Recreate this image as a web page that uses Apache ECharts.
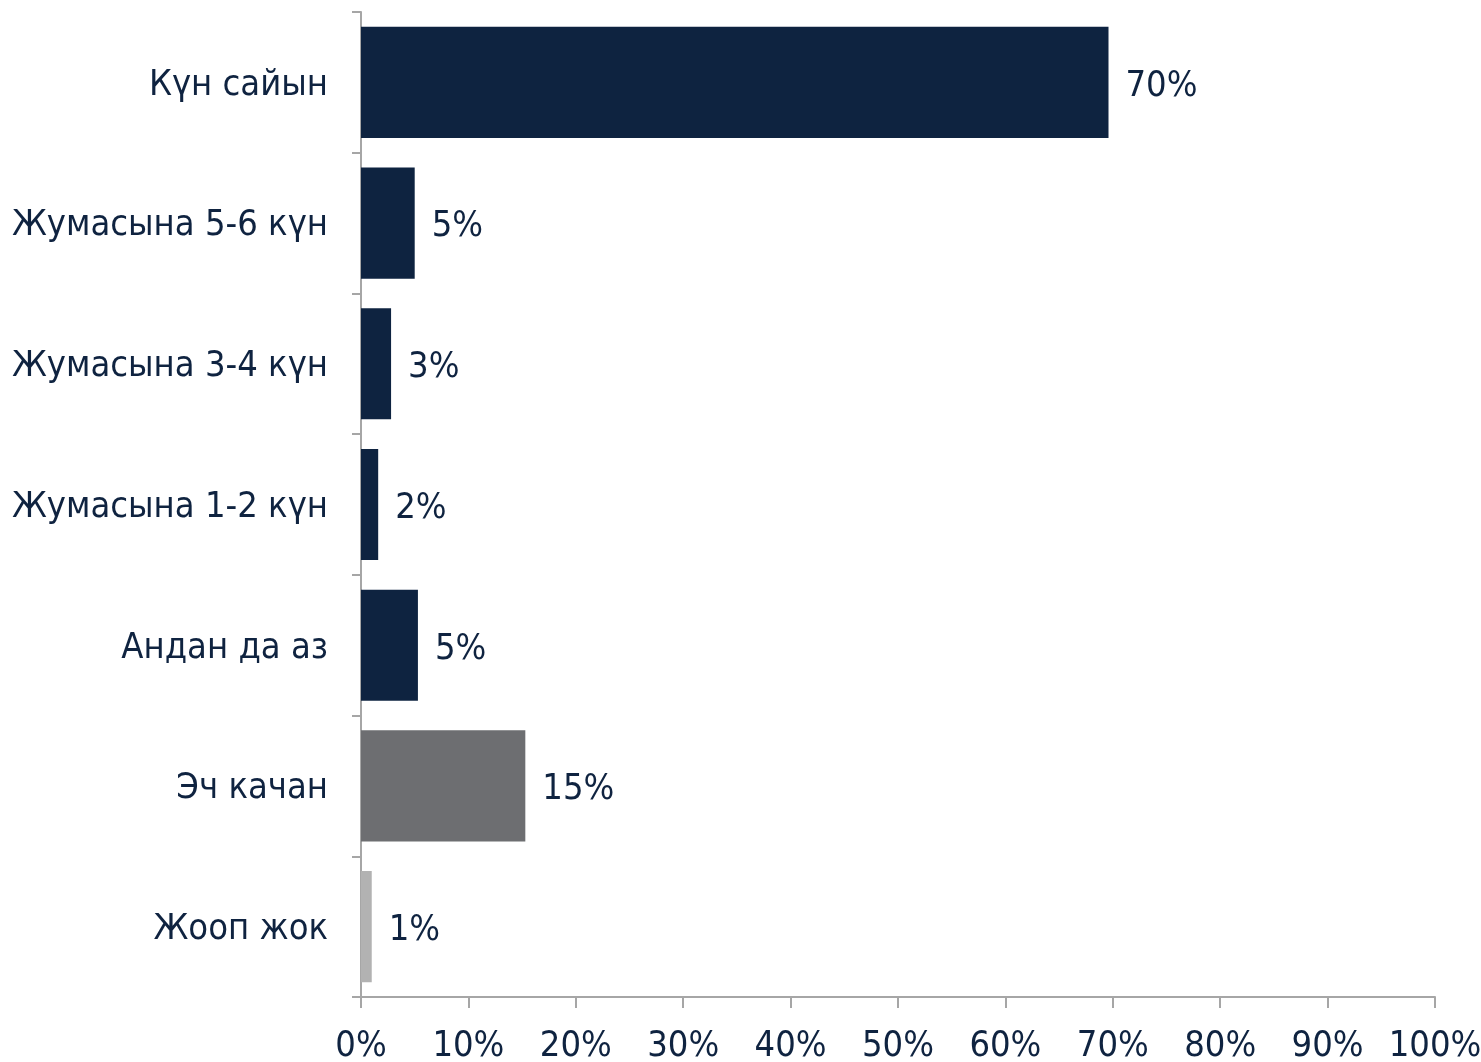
<!DOCTYPE html>
<html><head><meta charset="utf-8">
<script src="https://cdn.jsdelivr.net/npm/echarts@6/dist/echarts.min.js"></script>
<style>html,body{margin:0;padding:0;background:#fff}#c{width:1481px;height:1062px}</style>
</head><body><div id="c"></div>
<script>
const categories = ["Күн сайын","Жумасына 5-6 күн","Жумасына 3-4 күн","Жумасына 1-2 күн","Андан да аз","Эч качан","Жооп жок"];
const values = [69.6, 5.0, 2.8, 1.6, 5.3, 15.3, 1.0];
const valueLabels = ["70%","5%","3%","2%","5%","15%","1%"];
const barColors = ["#0e2340","#0e2340","#0e2340","#0e2340","#0e2340","#6d6e71","#b2b2b2"];
const xTicks = [0,10,20,30,40,50,60,70,80,90,100];

const FONT = "'DejaVu Sans Condensed', 'DejaVu Sans'";
const TXT = "#0f2340";
const chart = echarts.init(document.getElementById('c'), null, {renderer:'canvas'});
chart.setOption({
  animation:false,
  grid:{left:361,right:46,top:12,bottom:65,containLabel:false,outerBoundsMode:'none'},
  xAxis:{type:'value',min:0,max:100,interval:10,
    axisLine:{show:true,lineStyle:{color:'#a6a6a6',width:2}},
    axisTick:{show:true,length:11,lineStyle:{color:'#a6a6a6',width:2}},
    splitLine:{show:false},
    axisLabel:{formatter:v=>xTicks.includes(v)?v+'%':'',fontFamily:FONT,fontSize:36,color:TXT,margin:32}},
  yAxis:{type:'category',inverse:true,data:categories,
    axisLine:{show:true,lineStyle:{color:'#a6a6a6',width:2}},
    axisTick:{show:true,length:9,lineStyle:{color:'#a6a6a6',width:2}},
    axisLabel:{fontFamily:FONT,fontSize:36,color:TXT,margin:33,
      formatter:v=>'{a|'+v+'}',
      rich:{a:{fontFamily:FONT,fontSize:36,color:TXT,padding:[6,0,0,0]}}}},
  series:[{type:'bar',barCategoryGap:'21%',
    data:values.map((v,i)=>({value:v,itemStyle:{color:barColors[i]}})),
    label:{show:true,position:'right',distance:17,offset:[0,4],fontFamily:FONT,fontSize:36,color:TXT,
      formatter:p=>valueLabels[p.dataIndex]}}]
});
</script></body></html>
